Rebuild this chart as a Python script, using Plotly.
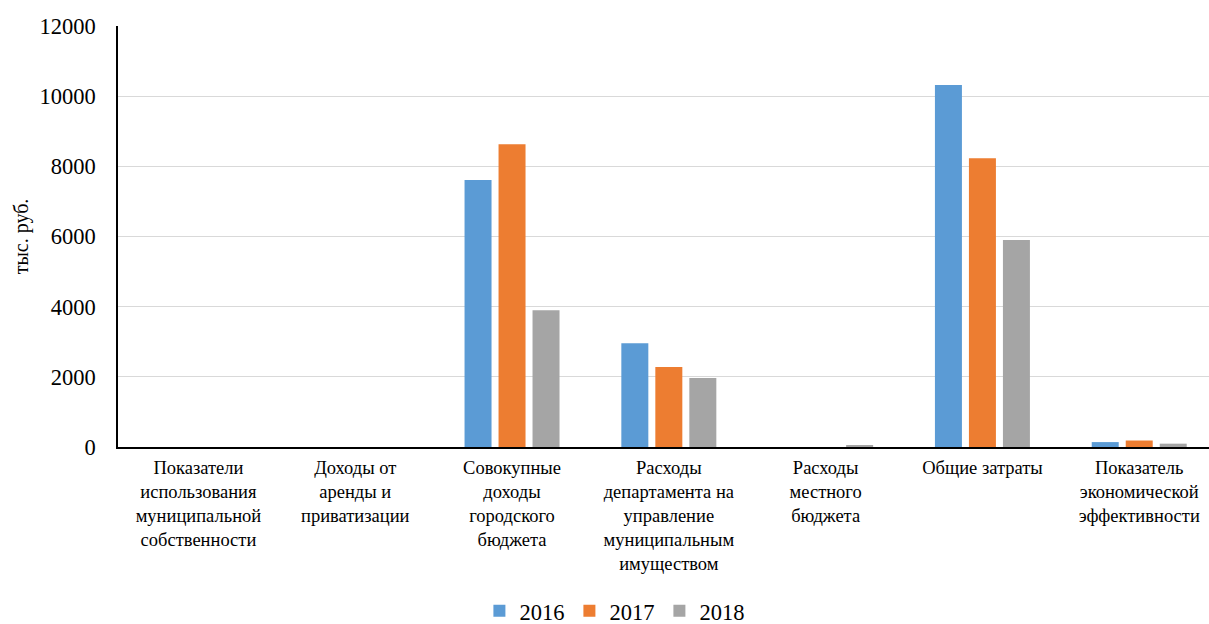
import plotly.graph_objects as go

categories = [
    "Показатели<br>использования<br>муниципальной<br>собственности",
    "Доходы от<br>аренды и<br>приватизации",
    "Совокупные<br>доходы<br>городского<br>бюджета",
    "Расходы<br>департамента на<br>управление<br>муниципальным<br>имуществом",
    "Расходы<br>местного<br>бюджета",
    "Общие затраты",
    "Показатель<br>экономической<br>эффективности",
]
years = ["2016", "2017", "2018"]
values_2016 = [0, 0, 7610, 2960, 0, 10320, 140]
values_2017 = [0, 0, 8630, 2280, 0, 8230, 185]
values_2018 = [0, 0, 3900, 1965, 40, 5900, 95]
colors = ["#5B9BD5", "#ED7D31", "#A5A5A5"]

font_family = "Liberation Serif, Times New Roman, serif"

fig = go.Figure()
for name, vals, col in zip(years, [values_2016, values_2017, values_2018], colors):
    fig.add_trace(go.Bar(x=categories, y=vals, name=name, marker_color=col,
                         marker_line_width=0))

fig.update_layout(
    width=1209, height=624,
    margin=dict(l=118, r=0, t=26, b=177, autoexpand=False),
    paper_bgcolor="white", plot_bgcolor="white",
    barmode="group", bargap=0.3495, bargroupgap=0.206,
    font=dict(family=font_family, color="#000000"),
    legend=dict(orientation="h", x=0.455, y=-0.39, xanchor="center", yanchor="middle",
                font=dict(size=22.5, family=font_family), traceorder="normal",
                itemwidth=30),
    showlegend=True,
)
fig.update_yaxes(range=[0, 12000], dtick=2000, tickformat="d", showgrid=True,
                 gridcolor="#D9D9D9", gridwidth=1, showline=True,
                 linecolor="#000000", linewidth=1.5,
                 tickfont=dict(size=22.5, family=font_family), ticks="",
                 ticklabelstandoff=16, zeroline=False,
                 title=dict(text="тыс. руб.", font=dict(size=20, family=font_family),
                            standoff=6))
fig.update_xaxes(range=[-0.513, 6.445], showline=True, linecolor="#000000", linewidth=2,
                 tickfont=dict(size=18.5, family=font_family), ticks="",
                 ticklabelstandoff=3)

fig.write_html("out.html")
